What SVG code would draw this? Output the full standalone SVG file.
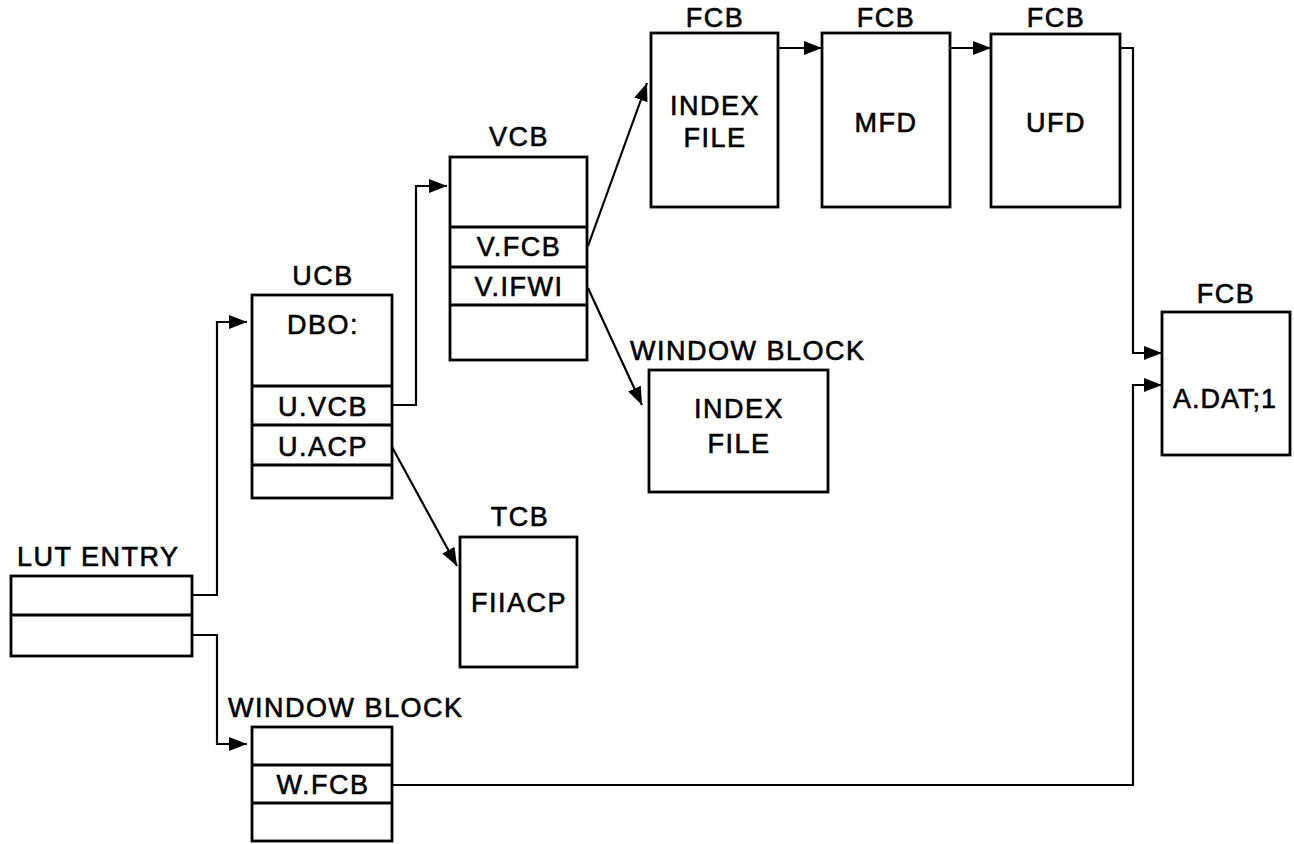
<svg xmlns="http://www.w3.org/2000/svg" width="1294" height="844" viewBox="0 0 1294 844">
<style>
.box{fill:#fff;stroke:#000;stroke-width:2.8}
.div{stroke:#000;stroke-width:2.8}
.t{font-family:"Liberation Sans",Arial,Helvetica,sans-serif;font-size:27px;letter-spacing:1.5px;fill:#000;stroke:#000;stroke-width:0.6}
.m{text-anchor:middle}
.c{fill:none;stroke:#000;stroke-width:2.2;stroke-linejoin:miter}
</style>
<defs>
<marker id="ah" markerUnits="userSpaceOnUse" markerWidth="20" markerHeight="14" refX="18" refY="7" orient="auto">
<path d="M0,0 L18,7 L0,14 z" fill="#000"/>
</marker>
</defs>
<rect width="1294" height="844" fill="#fff"/>
<g id="connectors">
<path class="c" d="M192,595 H217 V322 H247" marker-end="url(#ah)"/>
<path class="c" d="M192,635 H217 V744 H247" marker-end="url(#ah)"/>
<path class="c" d="M392,405 H416 V186 H447" marker-end="url(#ah)"/>
<path class="c" d="M392,447 L457,566" marker-end="url(#ah)"/>
<path class="c" d="M588,246 L647,83" marker-end="url(#ah)"/>
<path class="c" d="M588,288 L642,405" marker-end="url(#ah)"/>
<path class="c" d="M778,48 H822" marker-end="url(#ah)"/>
<path class="c" d="M950,48 H991" marker-end="url(#ah)"/>
<path class="c" d="M1120,48 H1133 V353 H1162" marker-end="url(#ah)"/>
<path class="c" d="M392,785 H1133 V385 H1162" marker-end="url(#ah)"/>
</g>
<g id="lut">
<text class="t" x="17" y="566">LUT ENTRY</text>
<rect class="box" x="11" y="576" width="181" height="80"/>
<line class="div" x1="11" y1="615" x2="192" y2="615"/>
</g>
<g id="ucb">
<text class="t m" x="323" y="285">UCB</text>
<rect class="box" x="252" y="295" width="140" height="203"/>
<line class="div" x1="252" y1="386" x2="392" y2="386"/>
<line class="div" x1="252" y1="425" x2="392" y2="425"/>
<line class="div" x1="252" y1="465" x2="392" y2="465"/>
<text class="t m" x="323" y="334">DBO:</text>
<text class="t m" x="323" y="416">U.VCB</text>
<text class="t m" x="323" y="456">U.ACP</text>
</g>
<g id="vcb">
<text class="t m" x="519" y="146">VCB</text>
<rect class="box" x="450" y="157" width="137" height="203"/>
<line class="div" x1="450" y1="227" x2="587" y2="227"/>
<line class="div" x1="450" y1="267" x2="587" y2="267"/>
<line class="div" x1="450" y1="305" x2="587" y2="305"/>
<text class="t m" x="519" y="256">V.FCB</text>
<text class="t m" x="519" y="296">V.IFWI</text>
</g>
<g id="fcb-index">
<text class="t m" x="715" y="27">FCB</text>
<rect class="box" x="651" y="33" width="127" height="174"/>
<text class="t m" x="715" y="115">INDEX</text>
<text class="t m" x="715" y="147">FILE</text>
</g>
<g id="fcb-mfd">
<text class="t m" x="886" y="27">FCB</text>
<rect class="box" x="822" y="33" width="128" height="174"/>
<text class="t m" x="886" y="132">MFD</text>
</g>
<g id="fcb-ufd">
<text class="t m" x="1056" y="27">FCB</text>
<rect class="box" x="991" y="34" width="129" height="173"/>
<text class="t m" x="1056" y="132">UFD</text>
</g>
<g id="fcb-adat">
<text class="t m" x="1226" y="303">FCB</text>
<rect class="box" x="1162" y="312" width="128" height="143"/>
<text class="t m" x="1225" y="408" style="letter-spacing:1px">A.DAT;1</text>
</g>
<g id="window-index">
<text class="t" x="630" y="360">WINDOW BLOCK</text>
<rect class="box" x="649" y="370" width="179" height="122"/>
<text class="t m" x="739" y="418">INDEX</text>
<text class="t m" x="739" y="453">FILE</text>
</g>
<g id="tcb">
<text class="t m" x="520" y="526">TCB</text>
<rect class="box" x="460" y="537" width="117" height="130"/>
<text class="t m" x="519" y="612">FIIACP</text>
</g>
<g id="window-wfcb">
<text class="t" x="228" y="717">WINDOW BLOCK</text>
<rect class="box" x="252" y="727" width="140" height="114"/>
<line class="div" x1="252" y1="765" x2="392" y2="765"/>
<line class="div" x1="252" y1="803" x2="392" y2="803"/>
<text class="t m" x="323" y="794">W.FCB</text>
</g>
</svg>
